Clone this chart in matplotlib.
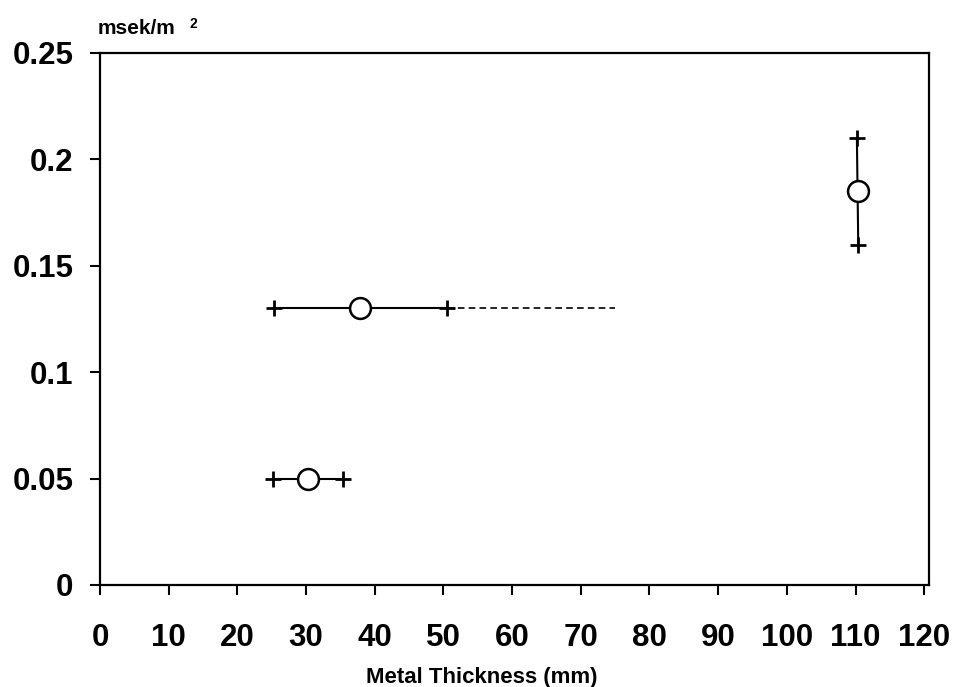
import matplotlib
matplotlib.use("Agg")
import matplotlib.pyplot as plt

# data
centers_x = [30.3, 37.9, 110.3]
centers_y = [0.05, 0.13, 0.185]
# horizontal ranges (solid)
h_lo = [25.2, 25.3]
h_hi = [35.4, 50.5]
h_y = [0.05, 0.13]
# dashed extension
dash_x = [50.5, 75.0]
dash_y = [0.13, 0.13]
# vertical range for third point
v_x = [110.2, 110.4]
v_y = [0.21, 0.16]

x_ticks = [0, 10, 20, 30, 40, 50, 60, 70, 80, 90, 100, 110, 120]
y_ticks = [0, 0.05, 0.1, 0.15, 0.2, 0.25]
y_labels = ["0", "0.05", "0.1", "0.15", "0.2", "0.25"]

plt.rcParams['font.family'] = ['Liberation Sans', 'DejaVu Sans']

fig = plt.figure(figsize=(9.55, 6.87), dpi=100)
ax = fig.add_axes([100/955, 102/687, 829/955, 532/687])

lw = 1.5
for lo, hi, y in zip(h_lo, h_hi, h_y):
    ax.plot([lo, hi], [y, y], color='black', lw=lw, zorder=2)
    ax.plot([lo, hi], [y, y], ls='none', marker='+', ms=11, mew=2, color='black', zorder=3)
ax.plot(dash_x, dash_y, color='black', lw=1.2, ls=(0, (4, 2.5)), zorder=2)
ax.plot(v_x, v_y, color='black', lw=lw, zorder=2)
ax.plot(v_x, v_y, ls='none', marker='+', ms=11, mew=2, color='black', zorder=3)
ax.plot(centers_x, centers_y, ls='none', marker='o', ms=15, mfc='white', mec='black', mew=1.8, zorder=4)

ax.set_xlim(0, 120.7)
ax.set_ylim(0, 0.25)
ax.set_xticks(x_ticks)
ax.set_yticks(y_ticks)
ax.set_yticklabels(y_labels)
ax.tick_params(axis='both', direction='out', length=7, width=1.5, labelsize=22.5)
ax.tick_params(axis='y', pad=12)
ax.tick_params(axis='x', pad=20)
for lab in ax.get_xticklabels() + ax.get_yticklabels():
    lab.set_fontweight('bold')
for s in ax.spines.values():
    s.set_linewidth(1.6)

fig.text(482/955, 1 - 677/687, "Metal Thickness (mm)", ha='center', va='center', fontsize=16, fontweight='bold')
fig.text(98/955, 1 - 29/687, "msek/m", ha='left', va='center', fontsize=15, fontweight='bold')
fig.text(189/955, 1 - 24/687, "2", ha='left', va='center', fontsize=10, fontweight='bold')

fig.savefig("out.png", dpi=100)
